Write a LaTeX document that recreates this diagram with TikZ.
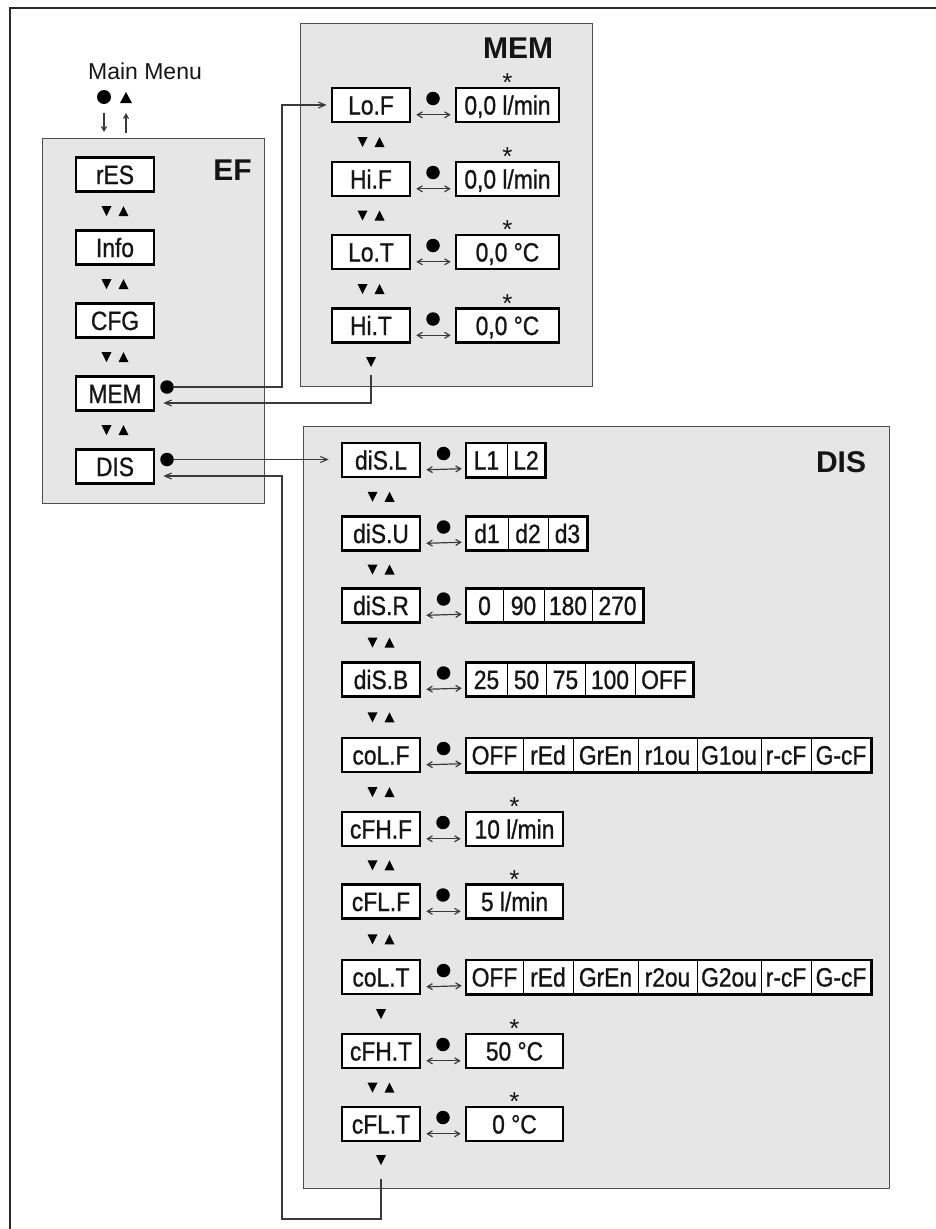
\documentclass[tikz,border=0pt]{standalone}
\usepackage{fontspec}
\setmainfont{Liberation Sans}
\newfontfamily\boxfont[FakeStretch=0.86,FakeBold=0.9]{Liberation Sans}
\usetikzlibrary{arrows.meta,calc}
\definecolor{panelfill}{HTML}{E6E6E6}
\definecolor{panelline}{HTML}{4F4F4F}
\definecolor{conline}{HTML}{3A3A3A}
\definecolor{txt}{HTML}{151515}
\definecolor{framecol}{HTML}{2A2A2A}
\newcommand\mydown[2]{\fill[black] ({#1-5},{#2-5}) -- ({#1+5},{#2-5}) -- ({#1},{#2+5}) -- cycle;}
\newcommand\myup[2]{\fill[black] ({#1-5},{#2+5}) -- ({#1+5},{#2+5}) -- ({#1},{#2-5}) -- cycle;}
\newcommand\mypair[2]{\mydown{#1-8.5}{#2}\myup{#1+8.5}{#2}}
\tikzset{
  panel/.style={draw=panelline, fill=panelfill, line width=1.3pt, anchor=north west, inner sep=0pt},
  boxtext/.style={text=txt, font=\boxfont\fontsize{26.5pt}{26.5pt}\selectfont, text height=19pt, text depth=0pt, inner sep=0pt},
  item/.style={boxtext, draw=black, fill=white, line width=2.6pt, minimum width=78pt, minimum height=34pt},
  cell/.style={boxtext, fill=white, minimum height=34pt},
  cellframe/.style={draw=black, line width=2.6pt},
  divider/.style={draw=black, line width=1.3pt},
  conn/.style={draw=conline, line width=1.1pt},
  bigtip/.style={-{Straight Barb[length=7pt,width=6pt]}},
  smalltip/.style={-{Straight Barb[length=4.5pt,width=5pt]}},
  dbl/.style={draw=conline, line width=1.2pt, {Straight Barb[length=5pt,width=6pt]}-{Straight Barb[length=5pt,width=6pt]}},
  knob/.style={circle, fill=black, minimum size=13.5pt, inner sep=0pt},
  title/.style={font=\bfseries\fontsize{30pt}{30pt}\selectfont, text=txt, anchor=base, inner sep=0pt},
  star/.style={font=\fontsize{26pt}{26pt}\selectfont, text=txt, anchor=base, inner sep=0pt},
}
\newcommand\cellrow[4]{%
  \foreach \a/\b/\t [count=\i] in {#3} {\node[cell, minimum width={\b-\a}] (#1\i) at ({(\a+\b)/2},#2) {\t};}
  \pgfmathtruncatemacro\lastdiv{#4-1}
  \foreach \i in {1,...,\lastdiv} {\draw[divider] (#1\i.north east) -- (#1\i.south east);}
  \draw[cellframe] (#11.north west) rectangle (#1#4.south east);
}
\newcommand\starglyph{\raisebox{-11pt}[7.7pt][0pt]{*}}
\begin{document}
\begin{tikzpicture}[x=1pt,y=-1pt]
\useasboundingbox (0,0) rectangle (936,1229);
\draw[framecol, line width=2.6pt] (10,1229) -- (10,8) -- (936,8);

% Main menu
\node[anchor=base, inner sep=0pt, text=txt, font=\fontsize{23pt}{23pt}\selectfont] (mainmenu) at (145,79) {Main Menu};
\node[knob, minimum size=14pt] (mmdot) at (104,97) {};
\fill[black] (120,103) -- (132,103) -- (126,92) -- cycle;
\coordinate (mmd1) at (104,113); \coordinate (mmd2) at (104,132);
\coordinate (mmu1) at (126,133); \coordinate (mmu2) at (126,113);
\draw[conn, smalltip] (mmd1) -- (mmd2);
\draw[conn, smalltip] (mmu1) -- (mmu2);

% panels
\node[panel, minimum width=222pt, minimum height=365pt] (pEF) at (42,138) {};
\node[panel, minimum width=292pt, minimum height=363pt] (pMEM) at (300,23) {};
\node[panel, minimum width=586pt, minimum height=762pt] (pDIS) at (303,426) {};
\node[title] (tEF) at (232.5,180) {EF};
\node[title] (tMEM) at (518,58) {MEM};
\node[title] (tDIS) at (841,472) {DIS};

% EF items
\foreach \n/\t/\y in {efRES/rES/174.5, efINFO/Info/247.5, efCFG/CFG/320.5, efMEM/MEM/393.5, efDIS/DIS/466.5}
  \node[item] (\n) at (115,\y) {\t};
\foreach \y in {211,284,357,430} {\mypair{115}{\y}}
\node[knob] (efMEM-d) at (167,387) {};
\node[knob] (efDIS-d) at (167,459.5) {};

% MEM items
\node[item] (LoF) at (371,105) {Lo.F};
\node[item] (HiF) at (371,179) {Hi.F};
\node[item] (LoT) at (371,252) {Lo.T};
\node[item] (HiT) at (371,325.5) {Hi.T};
\node[item, minimum width=103pt] (LoF1) at (507.5,105) {0,0 l/min};
\node[item, minimum width=103pt] (HiF1) at (507.5,179) {0,0 l/min};
\node[item, minimum width=103pt] (LoT1) at (507.5,252) {0,0 °C};
\node[item, minimum width=103pt] (HiT1) at (507.5,325.5) {0,0 °C};
\foreach \y in {142,215.5,289} {\mypair{371}{\y}}
\mydown{371}{362}

% DIS items
\foreach \n/\t/\y in {diSL/diS.L/460, diSU/diS.U/533.5, diSR/diS.R/605.5, diSB/diS.B/679.5, colF/coL.F/755, cFHF/cFH.F/829, cFLF/cFL.F/901.5, colT/coL.T/977, cFHT/cFH.T/1051, cFLT/cFL.T/1124}
  \node[item] (\n) at (381,\y) {\t};
\cellrow{diSL}{460}{466/507/L1, 507/545/L2}{2}
\cellrow{diSU}{533.5}{466/508/d1, 508/548/d2, 548/587/d3}{3}
\cellrow{diSR}{605.5}{466/503/0, 503/544/90, 544/592/180, 592/643/270}{4}
\cellrow{diSB}{679.5}{466/507/25, 507/546/50, 546/585/75, 585/635/100, 635/693/OFF}{5}
\cellrow{colF}{755}{466/523/OFF, 523/573/rEd, 573/638/GrEn, 638/697/r1ou, 697/761/G1ou, 761/811/r-cF, 811/871/G-cF}{7}
\cellrow{colT}{977}{466/523/OFF, 523/573/rEd, 573/638/GrEn, 638/697/r2ou, 697/761/G2ou, 761/811/r-cF, 811/871/G-cF}{7}
\node[item, minimum width=97pt] (cFHF1) at (514.5,829) {10 l/min};
\node[item, minimum width=97pt] (cFLF1) at (514.5,901.5) {5 l/min};
\node[item, minimum width=97pt] (cFHT1) at (514.5,1051) {50 °C};
\node[item, minimum width=97pt] (cFLT1) at (514.5,1124) {0 °C};
\foreach \y in {496.75,569.5,642.5,717.25,792,865.25,939.25,1087.5} {\mypair{381}{\y}}
\mydown{381}{1014}
\mydown{381}{1160}

% dots, double arrows, stars
\foreach \n in {LoF,HiF,LoT,HiT,diSL,diSU,diSR,diSB,colF,cFHF,cFLF,colT,cFHT,cFLT} {
  \node[knob] (\n-d) at ($(\n.east)!0.5!(\n1.west)+(0,-6.5)$) {};
  \draw[dbl] ([shift={(5,-8.5)}]\n.south east) -- ([shift={(-4,-8.5)}]\n1.south west);
}
\foreach \n in {LoF,HiF,LoT,HiT,cFHF,cFLF,cFHT,cFLT}
  \node[star] (\n-s) at ($(\n1.north)+(0,-6)$) {\starglyph};

% connectors
\coordinate (busx) at (282,0);
\draw[conn, bigtip, shorten >=4pt] (efMEM-d.east) -- (efMEM-d.east -| busx) |- (LoF.west);
\coordinate (memtail) at (371,375);
\draw[conn, bigtip] (memtail) |- ([shift={(8,9.5)}]efMEM.east);
\draw[conn, bigtip, shorten >=12pt] (efDIS-d.east) -- (efDIS-d.east -| diSL.west);
\coordinate (distail) at (381,1179);
\coordinate (disbot) at (282,1219);
\draw[conn, bigtip] (distail) |- (disbot) |- ([shift={(8,9.5)}]efDIS.east);
\end{tikzpicture}
\end{document}
